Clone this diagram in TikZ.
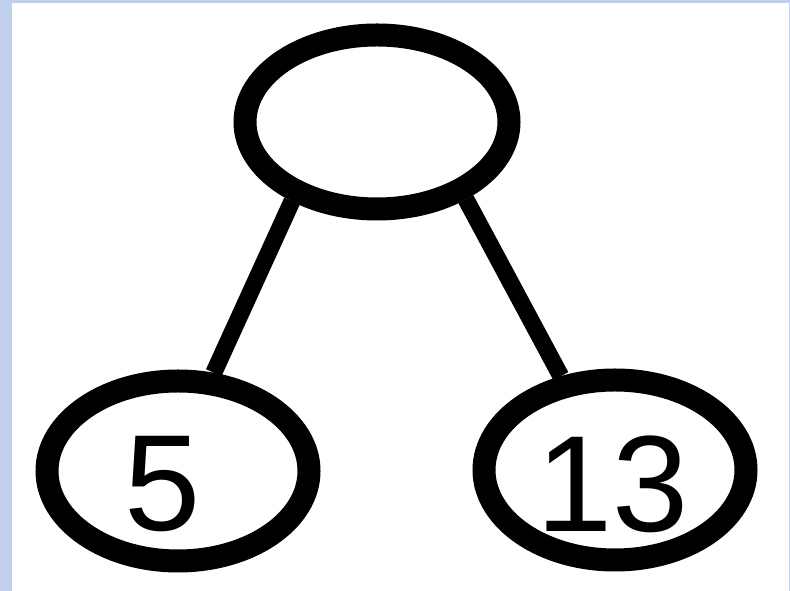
\documentclass[tikz,border=0pt]{standalone}
\usepackage{fontspec}
\setmainfont{Liberation Sans}
\usetikzlibrary{shapes.geometric}
\definecolor{frameblue}{RGB}{191,207,236}
\begin{document}
\begin{tikzpicture}[
	x=1pt, y=1pt,
	tnode/.style={ ellipse, draw, line width=23pt, inner sep=0pt, minimum width=262pt, minimum height=180pt },
	tedge/.style={ line width=17pt },
	tlabel/.style={ font=\fontsize{137}{137}\selectfont }
]

\fill[frameblue] (0,0) rectangle (790,591);
\fill[white] (12,0) rectangle (789,588);

\node at (377,469) (t1) [tnode,minimum width=264pt,minimum height=174pt] {};

\node at (178,120) (t2) [tnode,label={[tlabel,xshift=-15pt,yshift=-13pt]center:5}] {};
\draw[tedge] (t1.223.6) to (t2.70.9);

\node at (615,121) (t3) [tnode,label={[tlabel,xshift=-2pt,yshift=-14pt]center:13}] {};
\draw[tedge] (t1.319.8) to (t3.120.6);

\end{tikzpicture}
\end{document}
